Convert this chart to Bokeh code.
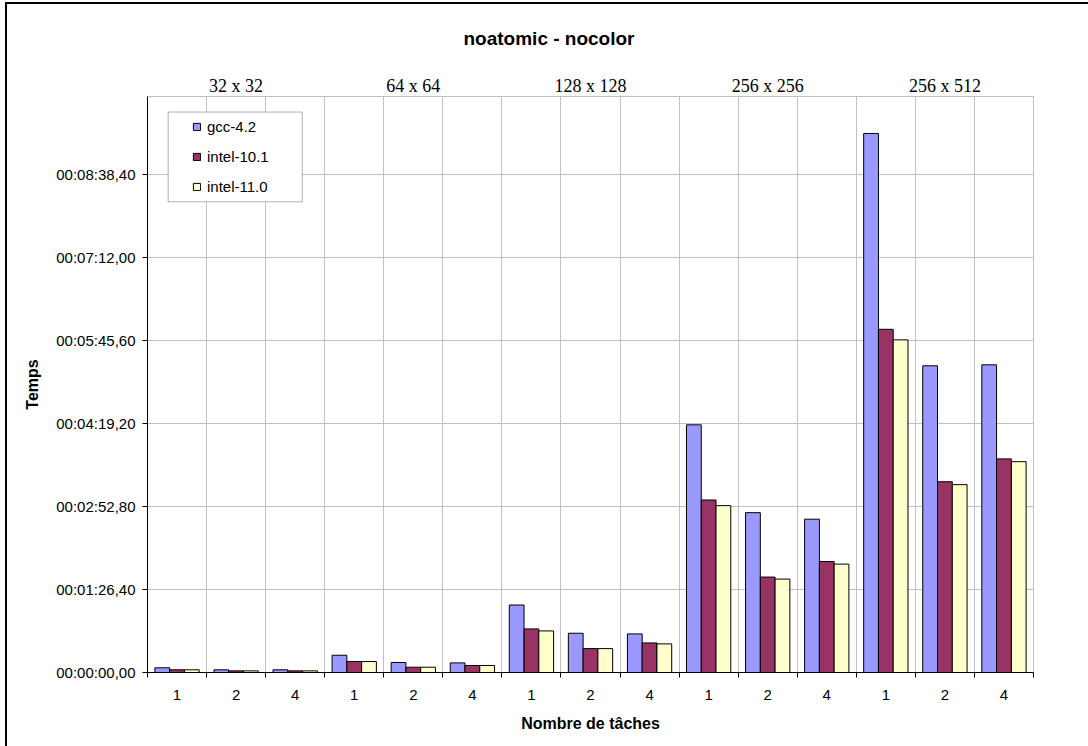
from bokeh.plotting import figure
from bokeh.models import (ColumnDataSource, FixedTicker, LinearAxis, Range1d,
                          Legend, LegendItem, BoxAnnotation, InlineStyleSheet)
from bokeh.embed import file_html
from bokeh.resources import INLINE

# Matrix sizes (one group of three slots each) and task counts per group
sizes = ["32 x 32", "64 x 64", "128 x 128", "256 x 256", "256 x 512"]
tasks = ["1", "2", "4"]

# Run time in seconds for each (size, tasks) slot, in order
gcc_42 = [4.9, 2.8, 2.8, 18.0, 10.4, 10.0, 70.3, 40.9, 40.2,
          258.0, 166.5, 159.7, 561.5, 319.5, 320.5]
intel_101 = [2.8, 1.7, 1.7, 11.4, 5.5, 7.3, 45.4, 24.9, 30.8,
             179.7, 99.4, 115.6, 357.5, 198.7, 222.5]
intel_110 = [2.8, 1.7, 1.7, 11.4, 5.5, 7.3, 43.3, 24.9, 29.8,
             173.8, 97.3, 112.9, 346.5, 195.7, 219.6]

series_names = ["gcc-4.2", "intel-10.1", "intel-11.0"]
series_colors = ["#9999FF", "#993366", "#FFFFCC"]

# Time axis: ticks every 86.4 s, labelled hh:mm:ss,cc
y_ticks = [0, 86.4, 172.8, 259.2, 345.6, 432, 518.4]
y_tick_labels = ["00:00:00,00", "00:01:26,40", "00:02:52,80", "00:04:19,20",
                 "00:05:45,60", "00:07:12,00", "00:08:38,40"]
y_max = 600

n_slots = len(sizes) * len(tasks)
slot_centers = [i + 0.5 for i in range(n_slots)]
slot_labels = [t for _ in sizes for t in tasks]
group_centers = [g * len(tasks) + len(tasks) / 2 for g in range(len(sizes))]

FONT = "Liberation Sans"
GRID = "#c0c0c0"

p = figure(width=1088, height=746, output_backend="svg", toolbar_location=None,
           x_range=Range1d(0, n_slots), y_range=Range1d(0, y_max),
           min_border_left=147, min_border_right=55,
           min_border_top=96, min_border_bottom=74,
           background_fill_color="white", border_fill_color="white")

# Chart border: a 2px line along the top and left edges, drawn over the canvas
p.stylesheets = [InlineStyleSheet(css="""
:host::after {
  content: "";
  position: absolute;
  left: 5px;
  top: 2px;
  width: calc(100% - 5px);
  height: calc(100% - 2px);
  border-left: 2px solid black;
  border-top: 2px solid black;
  box-sizing: border-box;
  z-index: 100;
  pointer-events: none;
}
""")]

# Title
p.title.text = "noatomic - nocolor"
p.title.align = "left"
p.title.offset = 316
p.title.standoff = 47
p.title.text_font = FONT
p.title.text_font_size = "19px"
p.title.text_font_style = "bold"
p.title.text_color = "black"

p.outline_line_color = GRID
p.outline_line_width = 1

# Grid: vertical lines at slot boundaries, horizontal lines at time ticks
p.xgrid.ticker = FixedTicker(ticks=list(range(1, n_slots + 1)))
p.xgrid.grid_line_color = GRID
p.ygrid.ticker = FixedTicker(ticks=y_ticks[1:])
p.ygrid.grid_line_color = GRID

# Bottom axis: task counts centered in each slot, tick marks at slot edges
xa = p.xaxis[0]
xa.ticker = FixedTicker(ticks=slot_centers, minor_ticks=list(range(n_slots + 1)))
xa.major_label_overrides = dict(zip(slot_centers, slot_labels))
xa.major_tick_line_color = None
xa.minor_tick_out = 5
xa.minor_tick_in = 0
xa.minor_tick_line_color = "black"
xa.axis_line_color = "black"
xa.major_label_standoff = 11
xa.major_label_text_font = FONT
xa.major_label_text_font_size = "15px"
xa.major_label_text_color = "black"
xa.axis_label = "Nombre de tâches"
xa.axis_label_text_font = FONT
xa.axis_label_text_font_size = "16px"
xa.axis_label_text_font_style = "bold"
xa.axis_label_text_color = "black"
xa.axis_label_standoff = 12

# Left axis: time
ya = p.yaxis[0]
ya.ticker = FixedTicker(ticks=y_ticks, minor_ticks=[])
ya.major_label_overrides = dict(zip(y_ticks, y_tick_labels))
ya.major_tick_out = 5
ya.major_tick_in = 0
ya.major_tick_line_color = "black"
ya.minor_tick_line_color = None
ya.axis_line_color = "black"
ya.major_label_standoff = 7
ya.major_label_text_font = FONT
ya.major_label_text_font_size = "15px"
ya.major_label_text_color = "black"
ya.axis_label = "Temps"
ya.axis_label_text_font = FONT
ya.axis_label_text_font_size = "16px"
ya.axis_label_text_font_style = "bold"
ya.axis_label_text_color = "black"
ya.axis_label_standoff = 12

# Top axis: matrix size labels over each group
top = LinearAxis(ticker=FixedTicker(ticks=group_centers, minor_ticks=[]),
                 major_label_overrides=dict(zip(group_centers, sizes)),
                 axis_line_color=None, major_tick_line_color=None,
                 minor_tick_line_color=None, major_label_standoff=-5,
                 major_label_text_font="Liberation Serif",
                 major_label_text_font_size="18px",
                 major_label_text_color="black")
p.add_layout(top, "above")

# Bars
renderers = []
for k, (vals, color) in enumerate(zip([gcc_42, intel_101, intel_110], series_colors)):
    offset = (k - 1) * 0.25
    src = ColumnDataSource(dict(x=[c + offset for c in slot_centers], top=vals))
    r = p.vbar(x="x", top="top", width=0.25, source=src, fill_color=color,
               line_color="black", line_width=1)
    renderers.append(r)

# Legend frame (white box hiding the grid) and entries
p.add_layout(BoxAnnotation(left=0.35, right=2.62, top=583.8, bottom=490.3,
                           fill_color="white", fill_alpha=1.0,
                           line_color="black", line_width=1))
legend = Legend(items=[LegendItem(label=n, renderers=[r])
                       for n, r in zip(series_names, renderers)],
                location=(45, 476), orientation="vertical",
                glyph_width=9, glyph_height=9, label_height=20, spacing=10,
                padding=5, margin=0, label_standoff=6,
                border_line_color=None, background_fill_alpha=0,
                label_text_font=FONT, label_text_font_size="15px",
                label_text_color="black")
p.add_layout(legend)

open("out.html", "w").write(file_html(p, INLINE))
